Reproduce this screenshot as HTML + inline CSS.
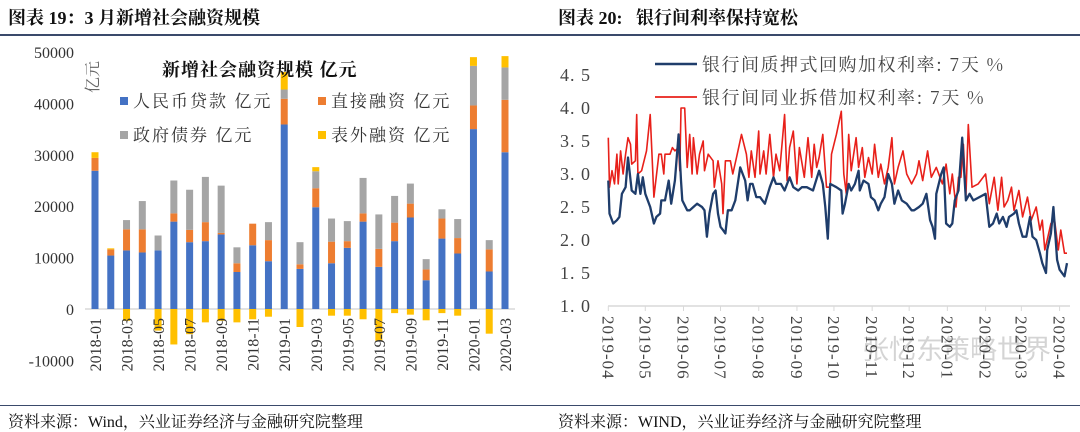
<!DOCTYPE html>
<html><head><meta charset="utf-8">
<style>
html,body{margin:0;padding:0;background:#fff;}
body{width:1080px;height:432px;position:relative;overflow:hidden;font-family:"Liberation Serif","Noto Serif CJK SC",serif;}
.t{position:absolute;white-space:nowrap;color:#111;}
</style></head><body>
<div class="t" style="left:8px;top:4px;font-size:18px;font-weight:bold;">图表 19：3 月新增社会融资规模</div>
<div class="t" style="left:558px;top:4px;font-size:18px;font-weight:bold;">图表 20:&nbsp;&nbsp;&nbsp;银行间利率保持宽松</div>
<div style="position:absolute;left:0;top:34px;width:1080px;height:2px;background:#3a4a6b;"></div>
<div style="position:absolute;left:0;top:405px;width:1080px;height:1px;background:#3a4a6b;"></div>
<div class="t" style="left:8px;top:409px;font-size:16px;">资料来源：Wind，兴业证券经济与金融研究院整理</div>
<div class="t" style="left:558px;top:409px;font-size:16px;">资料来源：WIND，兴业证券经济与金融研究院整理</div>
<div class="t" style="left:862px;top:328px;font-size:27px;color:#d4d4d4;font-family:'Noto Sans CJK SC',sans-serif;">张忆东策略世界</div>

<svg id="left" width="540" height="400" style="position:absolute;left:0;top:0;"></svg>
<svg id="right" width="530" height="400" style="position:absolute;left:550px;top:0;"></svg>

<script>
// ---- Left chart data (unit: 亿元) ----
const months = ["2018-01","2018-02","2018-03","2018-04","2018-05","2018-06","2018-07","2018-08","2018-09","2018-10","2018-11","2018-12","2019-01","2019-02","2019-03","2019-04","2019-05","2019-06","2019-07","2019-08","2019-09","2019-10","2019-11","2019-12","2020-01","2020-02","2020-03"];
const loans = [26900,10400,11400,11000,11400,17000,13000,13200,14500,7200,12400,9300,35900,7800,19800,8900,11900,17000,8200,13200,17800,5600,13700,10800,35000,7300,30500];
const direct = [2500,1200,4100,4500,0,1600,2400,3700,300,1700,4200,4100,5000,900,3700,4200,1300,1600,3500,3600,2700,2100,3900,3000,4600,4300,10200];
const govBonds = [0,0,1800,5500,2900,6400,7800,8800,9200,3100,0,3500,1800,4300,3300,4500,3900,6900,6700,5200,3900,2000,1800,3700,7700,1800,6300];
const offBalance = [1100,200,-2300,0,-4200,-6900,-4900,-2600,-2300,-2600,-2000,-1500,3400,-3500,800,-1300,-1300,-2000,-6200,-800,-1100,-2200,-800,-1300,1700,-4800,2200];
const yTicksL = [50000,40000,30000,20000,10000,0,-10000];

// ---- Right chart data (day offset from 2019-04-01, rate %) ----
const repoDays = [0,1,4,7,9,11,14,16,19,22,24,26,28,30,34,37,39,42,43,46,49,51,54,57,59,60,64,66,69,72,76,78,80,82,85,87,89,91,93,95,97,100,103,107,111,113,115,117,120,123,127,131,134,136,140,143,147,150,154,157,161,166,171,174,176,178,180,185,189,190,192,195,197,200,203,204,207,211,213,216,219,221,224,227,230,232,235,238,242,246,248,252,255,258,261,263,265,266,270,272,274,277,279,281,284,287,290,293,296,301,306,309,312,315,317,320,323,325,329,331,333,336,339,342,344,347,350,352,355,356,359,361,364,366,370,372];
const repoRate = [2.9,2.4,2.25,2.3,2.35,2.7,2.8,3.25,2.75,2.7,3.0,2.7,2.95,2.7,2.5,2.25,2.35,2.4,2.6,2.6,2.9,2.55,2.9,3.6,2.9,2.6,2.45,2.45,2.5,2.55,2.5,2.45,2.05,2.4,2.7,2.75,2.4,2.2,2.15,2.1,2.45,2.45,2.6,3.1,2.9,2.6,2.85,2.85,2.65,2.65,2.55,2.8,2.95,2.85,2.85,2.75,2.95,2.8,2.75,2.8,2.8,2.75,3.05,2.85,2.5,2.02,2.85,2.8,2.75,2.4,2.55,2.85,2.75,2.85,3.05,2.75,2.9,2.85,2.65,2.6,2.45,2.55,2.65,3.0,2.85,2.55,2.75,2.6,2.55,2.45,2.45,2.5,2.55,2.7,2.3,2.2,2.02,2.7,3.0,3.1,2.25,2.2,2.25,2.6,2.75,3.55,2.6,2.7,2.6,2.65,2.7,2.2,2.25,2.4,2.25,2.35,2.2,2.35,2.4,2.45,2.25,2.05,2.05,2.35,2.05,2.0,1.8,1.65,1.5,1.85,2.1,2.5,1.7,1.55,1.45,1.65];
const iboDays = [0,1,3,5,7,8,10,12,14,16,18,19,22,23,24,27,31,34,37,41,43,45,46,50,52,54,57,58,59,62,64,66,68,69,72,74,77,78,81,85,86,89,92,93,95,99,101,104,108,112,114,116,119,122,123,126,128,131,134,136,139,143,145,147,150,153,155,159,162,165,167,169,171,174,176,177,180,181,185,189,191,193,195,197,201,203,206,208,211,214,216,219,221,224,227,230,232,235,239,242,246,250,252,255,259,262,266,269,271,274,277,279,282,284,286,288,290,292,295,300,304,306,309,313,316,319,321,324,327,329,333,336,340,343,347,350,352,354,356,359,362,365,367,370,372];
const iboRate = [3.55,2.8,3.05,2.85,3.3,2.85,3.35,3.0,3.3,3.55,3.45,3.15,3.2,3.9,3.0,3.05,3.35,3.9,2.65,3.3,3.3,3.0,3.3,3.3,3.4,3.35,3.4,3.05,4.0,4.0,3.1,3.6,3.0,3.55,3.0,3.3,3.5,3.05,3.3,3.2,2.8,3.2,2.85,2.4,3.2,3.2,3.0,3.25,3.6,3.3,2.95,3.35,2.95,3.65,3.0,3.35,3.0,3.6,2.95,3.3,3.05,3.9,2.9,3.4,3.65,2.85,3.4,2.95,3.55,2.95,3.45,3.1,3.25,3.6,3.05,2.8,2.8,3.3,3.6,3.95,3.0,2.7,3.6,3.05,3.55,3.1,3.4,2.95,3.25,3.0,3.45,2.95,3.15,2.85,3.1,3.55,2.85,3.1,3.35,3.0,2.85,3.0,3.2,2.9,3.35,2.95,3.1,2.95,2.85,3.15,2.7,3.0,2.5,2.95,2.95,3.45,2.65,3.75,2.8,2.85,2.95,3.0,2.55,2.95,2.45,2.95,2.5,2.6,2.8,2.45,2.75,2.35,2.65,2.3,2.5,2.15,2.3,1.85,2.0,2.25,2.3,1.85,2.15,1.8,1.8];
const monthLabelsR = ["2019-04","2019-05","2019-06","2019-07","2019-08","2019-09","2019-10","2019-11","2019-12","2020-01","2020-02","2020-03","2020-04"];
const monthStartDays = [0,30,61,91,122,153,183,214,244,275,306,335,366];
const yTicksR = [4.5,4.0,3.5,3.0,2.5,2.0,1.5,1.0];

const NS = "http://www.w3.org/2000/svg";
function mk(parent, tag, attrs){ const e=document.createElementNS(NS,tag); for(const k in attrs) e.setAttribute(k,attrs[k]); parent.appendChild(e); return e; }

// ---------- Left chart ----------
(function(){
  const svg=document.getElementById('left');
  const x0=95, step=(505-95)/26, bw=7;
  const yL = v => 309 - v*(257/50000);
  const xL = i => x0 + i*step;
  yTicksL.forEach(v=>{
    const t=mk(svg,'text',{x:74,y:yL(v)+6,'text-anchor':'end','font-size':16,fill:'#333','font-family':'Liberation Serif,serif'});
    t.textContent=v;
    
    
  });
  const ax=mk(svg,'line',{x1:85,x2:515,y1:yL(0),y2:yL(0),stroke:'#d9d9d9','stroke-width':1.5});
  
  
  const colors=['#4472c4','#ed7d31','#a5a5a5','#ffc000'];
  months.forEach((m,i)=>{
    const cx=xL(i);
    let pos=0, neg=0;
    [loans[i],direct[i],govBonds[i],offBalance[i]].forEach((v,k)=>{
      if(v===0) return;
      let a,b;
      if(v>0){a=pos;b=pos+v;pos=b;} else {a=neg;b=neg+v;neg=b;}
      const r=mk(svg,'rect',{x:cx-bw/2,y:Math.min(yL(a),yL(b)),width:bw,height:Math.abs(yL(a)-yL(b)),fill:colors[k]});
      
      
    });
    if(i%2===0){
      const t=mk(svg,'text',{x:0,y:0,'text-anchor':'end','font-size':16,fill:'#333','font-family':'Liberation Serif,serif',transform:`translate(${cx+6},${318}) rotate(-90)`});
      t.textContent=m;
      
      
    }
  });
  const ti=mk(svg,'text',{x:162,y:76,'font-size':18,'font-weight':'bold',fill:'#111','font-family':'Noto Serif CJK SC,serif','letter-spacing':1});
  ti.textContent='新增社会融资规模  亿元';
  
  
  const yt=mk(svg,'text',{x:0,y:0,'font-size':16,fill:'#666','font-family':'Noto Serif CJK SC,serif',transform:'translate(98,93) rotate(-90)'});
  yt.textContent='亿元';
  
  
  const leg=[['人民币贷款  亿元',120,106],['直接融资  亿元',318,106],['政府债券  亿元',120,140],['表外融资  亿元',318,140]];
  leg.forEach((l,k)=>{
    const g=mk(svg,'g',{});
    
    
    mk(g,'rect',{x:l[1],y:l[2]-9,width:8,height:8,fill:colors[k]});
    const t=mk(g,'text',{x:l[1]+13,y:l[2]+1,'font-size':17,fill:'#333','font-family':'Noto Serif CJK SC,serif','letter-spacing':2});
    t.textContent=l[0];
  });
})();

// ---------- Right chart ----------
(function(){
  const svg=document.getElementById('right');
  const xR = d => 58.3 + d*1.233;
  const yR = v => 306 - (v-1)*66;
  yTicksR.forEach(v=>{
    const t=mk(svg,'text',{x:41,y:yR(v)+6,'text-anchor':'end','font-size':18,fill:'#444','font-family':'Liberation Serif,serif','letter-spacing':1});
    t.textContent=v.toFixed(1).replace('.','. ');
    
    
  });
  const ax=mk(svg,'line',{x1:58,x2:520,y1:yR(1),y2:yR(1),stroke:'#d9d9d9','stroke-width':1.5});
  
  
  monthLabelsR.forEach((m,i)=>{
    const x=xR(monthStartDays[i]);
    mk(svg,'line',{x1:x,x2:x,y1:yR(1),y2:yR(1)+5,stroke:'#d9d9d9'});
    const t=mk(svg,'text',{x:0,y:0,'font-size':17,fill:'#444','font-family':'Liberation Serif,serif','letter-spacing':1,transform:`translate(${x-6},${316}) rotate(90)`});
    t.textContent=m;
    
    
  });
  function line(days,vals,color,name){
    const d=days.map((dd,i)=>(i?'L':'M')+xR(dd).toFixed(1)+','+yR(vals[i]).toFixed(1)).join(' ');
    const p=mk(svg,'path',{d:d,fill:'none',stroke:color,'stroke-width':color==='#1f3d6b'?2.3:1.6,'stroke-linejoin':'round'});
    
    
  }
  line(iboDays,iboRate,'#e8201a','interbank-lending-rate-line');
  line(repoDays,repoRate,'#1f3d6b','repo-rate-line');
  const leg=[['银行间质押式回购加权利率: 7天  %','#1f3d6b',64],['银行间同业拆借加权利率: 7天  %','#e8201a',97]];
  leg.forEach(l=>{
    const g=mk(svg,'g',{});
    
    
    mk(g,'line',{x1:105,x2:147,y1:l[2],y2:l[2],stroke:l[1],'stroke-width':l[1]==='#1f3d6b'?2.5:1.8});
    const t=mk(g,'text',{x:152,y:l[2]+7,'font-size':18,fill:'#444','font-family':'Noto Serif CJK SC,serif','letter-spacing':1.5});
    t.textContent=l[0];
  });
})();
</script>
</body></html>
